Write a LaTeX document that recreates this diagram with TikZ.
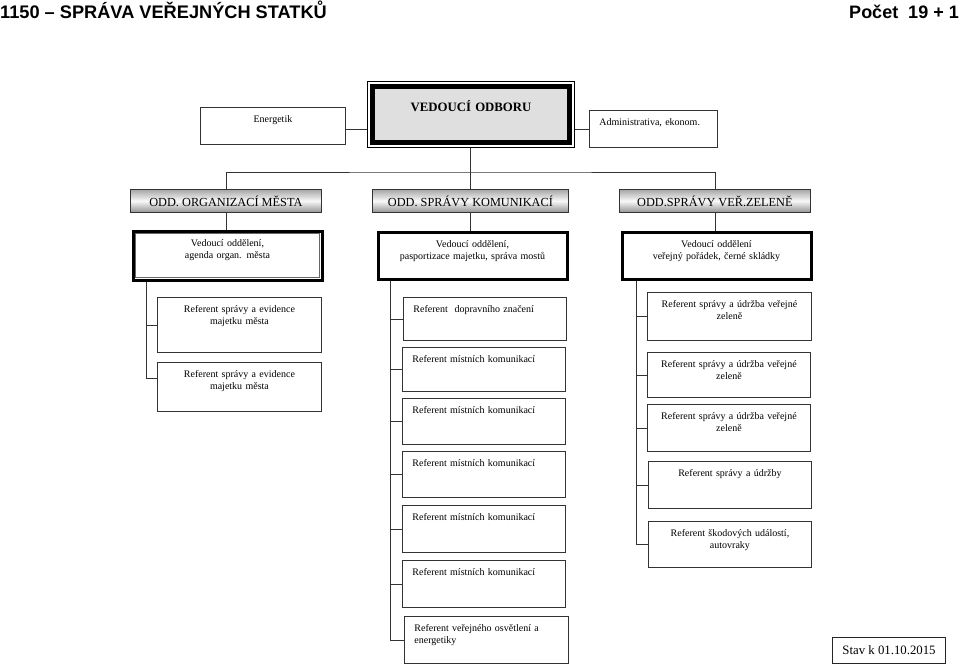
\documentclass[tikz,border=0pt]{standalone}
\usepackage{fontspec}
\setmainfont{Liberation Serif}
\newfontfamily\headfont{Liberation Sans}
\usepackage{tikz}
\usetikzlibrary{fit}

\begin{document}
\begin{tikzpicture}[x=1pt, y=-1pt,
  cell/.style n args={3}{draw=black!80, line width=0.9pt, anchor=north west, inner sep=0pt,
    text width=#1pt, text height=15pt, text depth={#2pt-15pt}, align=#3,
    font=\fontsize{10}{12.5}\selectfont},
  lcell/.style 2 args={cell={#1-20}{#2}{left}, minimum width=#1pt},
  dept/.style={draw=black!80, line width=0.8pt, anchor=north west, inner sep=0pt,
    minimum width=#1pt, minimum height=23pt, top color=gray!70, bottom color=gray!85,
    middle color=gray!5, font=\fontsize{12.3}{14}\selectfont},
  head/.style 2 args={cell={#1}{#2}{center}, draw=black, line width=3pt},
  link/.style={draw=black!80, line width=0.8pt}]
\useasboundingbox (0,0) rectangle (959,665);

\node[anchor=base west, inner sep=0pt, font=\headfont\bfseries\fontsize{18.2}{20}\selectfont] (title) at (0,18) {1150 – SPRÁVA VEŘEJNÝCH STATKŮ};
\node[anchor=base east, inner sep=0pt, font=\headfont\bfseries\fontsize{18}{20}\selectfont] (count) at (959,18) {Počet\ \ 19 + 1};

% vedeni odboru
\node[draw=black, line width=5pt, fill=gray!25, anchor=north west, inner sep=0pt, text width=197pt,
  text height=25pt, text depth=31pt, align=center, font=\bfseries\fontsize{12.8}{14}\selectfont] (vodb) at (370,84) {VEDOUCÍ ODBORU};
\node[draw=black, line width=0.6pt, fit=(vodb), inner sep=2.5pt] (vframe) {};
\node[cell={145}{37}{center}] (energ) at (200,107) {Energetik};
\node[lcell={128}{37}] (admin) at (589,110) {Administrativa, ekonom.};

% oddeleni
\node[dept=191] (oorg) at (130,189) {ODD. ORGANIZACÍ MĚSTA};
\node[dept=196] (okom) at (372,189) {ODD. SPRÁVY KOMUNIKACÍ};
\node[dept=191] (ozel) at (619,189) {ODD.SPRÁVY VEŘ.ZELENĚ};

\node[head={189}{49}] (vorg) at (131.5,229.5) {Vedoucí oddělení,\\ agenda organ. města};
\node[draw=black!60, line width=0.5pt, fit=(vorg), inner sep=-4pt] (vorgin) {};
\node[head={189}{47}] (vkom) at (376.5,230.5) {Vedoucí oddělení,\\ pasportizace majetku, správa mostů};
\node[head={189}{47}] (vzel) at (620.5,230.5) {Vedoucí oddělení\\ veřejný pořádek, černé skládky};

% referenti - organizace mesta
\node[cell={164}{55}{center}] (rorg1) at (157,297) {Referent správy a evidence\\ majetku města};
\node[cell={164}{49}{center}] (rorg2) at (157,362) {Referent správy a evidence\\ majetku města};

% referenti - komunikace
\node[lcell={163}{43}] (rkom1) at (403,297) {Referent~ dopravního značení};
\node[lcell={163}{44}] (rkom2) at (402,347) {Referent místních komunikací};
\node[lcell={163}{46}] (rkom3) at (402,398) {Referent místních komunikací};
\node[lcell={163}{46}] (rkom4) at (402,451) {Referent místních komunikací};
\node[lcell={163}{47}] (rkom5) at (402,505) {Referent místních komunikací};
\node[lcell={163}{47}] (rkom6) at (402,560) {Referent místních komunikací};
\node[lcell={164}{47}] (rkom7) at (404,616) {Referent veřejného osvětlení a\\ energetiky};

% referenti - zelen
\node[cell={164}{48}{center}] (rzel1) at (647,292) {Referent správy a údržba veřejné\\ zeleně};
\node[cell={163}{45}{center}] (rzel2) at (647,352) {Referent správy a údržba veřejné\\ zeleně};
\node[cell={163}{47}{center}] (rzel3) at (647,404) {Referent správy a údržba veřejné\\ zeleně};
\node[cell={163}{47}{center}] (rzel4) at (648,461) {Referent správy a údržby};
\node[cell={163}{46}{center}] (rzel5) at (648,521) {Referent škodových událostí,\\ autovraky};

\node[draw=black!85, line width=1.1pt, anchor=north west, minimum width=113pt, minimum height=26pt,
  inner sep=0pt, font=\fontsize{12.8}{14}\selectfont] (stav) at (832,637) {Stav k 01.10.2015};

% spojnice
\coordinate (hub) at (470,172);
\draw[link] (energ.east |- admin.west) -- (vframe.west |- admin.west);
\draw[link] (vframe.east |- admin.west) -- (admin.west);
\draw[link] (vframe.south -| okom.north) -- (okom.north);
\draw[link] (oorg.north) |- (hub) -| (ozel.north);
\draw[link] (oorg.south) -- (oorg.south |- vorg.north);
\draw[link] (okom.south) -- (okom.south |- vkom.north);
\draw[link] (ozel.south) -- (ozel.south |- vzel.north);
\draw[link] ([xshift=15pt]vorg.south west) |- (rorg1.west);
\draw[link] ([xshift=15pt]vorg.south west) |- ([yshift=9pt]rorg2.west);
\foreach \n in {1,...,7}
  \draw[link] ([xshift=14pt]vkom.south west) |- (rkom\n.west);
\foreach \n in {1,...,5}
  \draw[link] ([xshift=16pt]vzel.south west) |- (rzel\n.west);
\end{tikzpicture}
\end{document}
